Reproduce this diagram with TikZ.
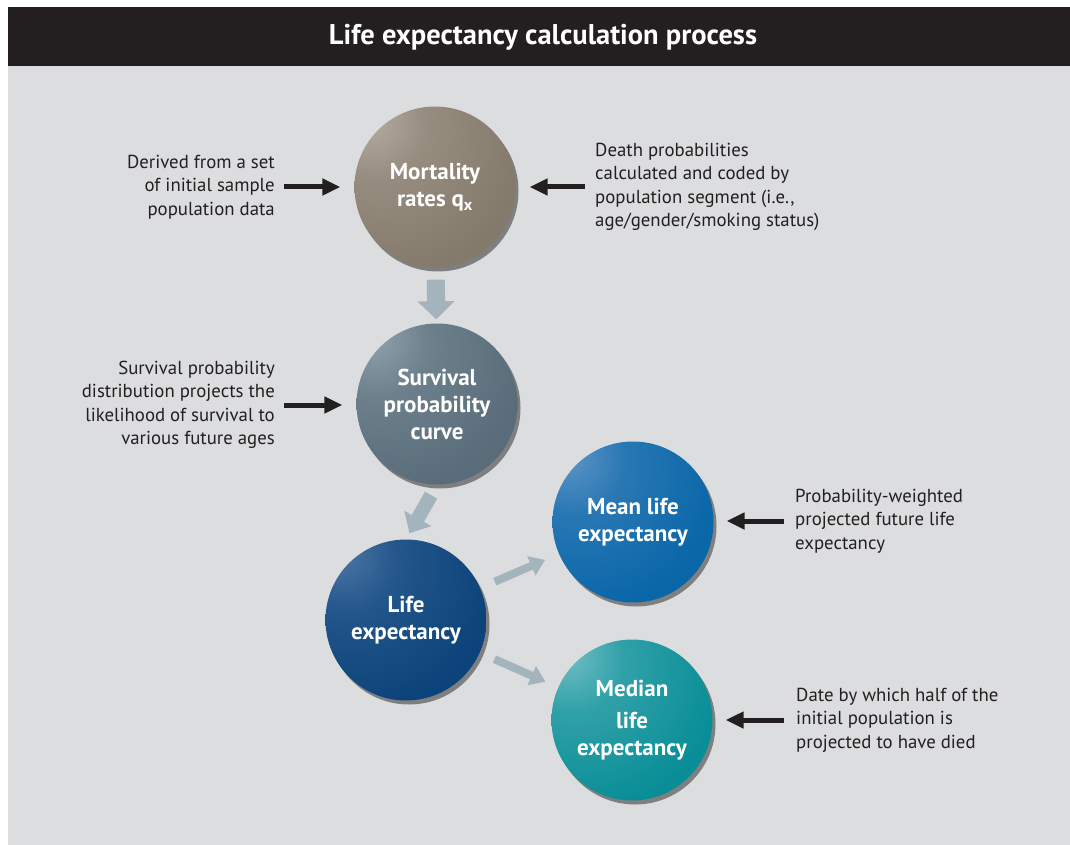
\documentclass[tikz,border=0pt]{standalone}
\usepackage{fontspec}
\setmainfont{PT Sans}
\usetikzlibrary{arrows.meta,shadows}
\definecolor{band}{HTML}{231F20}
\definecolor{panel}{HTML}{DCDDDF}
\definecolor{flowgray}{HTML}{A3B4BD}
\definecolor{mortlight}{HTML}{B7AFA3}
\definecolor{mortdark}{HTML}{847A6C}
\definecolor{survlight}{HTML}{93A5B0}
\definecolor{survdark}{HTML}{586C79}
\definecolor{lifelight}{HTML}{5079A8}
\definecolor{lifedark}{HTML}{0B437A}
\definecolor{meanlight}{HTML}{6398C9}
\definecolor{meandark}{HTML}{0966A8}
\definecolor{medlight}{HTML}{78C2C8}
\definecolor{meddark}{HTML}{098E97}
\colorlet{ballhi}{white}
\colorlet{balllo}{black}
\pgfdeclareradialshading[ballhi,balllo]{sphere}{\pgfpoint{-22bp}{22bp}}{color(0bp)=(ballhi); color(16bp)=(ballhi!35!balllo); color(40bp)=(balllo); color(100bp)=(balllo)}

\begin{document}
\begin{tikzpicture}[x=1pt,y=-1pt,
  ball/.style 2 args={circle,minimum size=161pt,inner sep=0pt,
    /utils/exec={\colorlet{ballhi}{#1}\colorlet{balllo}{#2}},
    shading=sphere,
    drop shadow={shadow xshift=3pt,shadow yshift=-4pt,opacity=.55,fill=black!80},
    text=white,align=center,font=\fontsize{23}{27}\selectfont\bfseries},
  note/.style={inner sep=0pt,text=band,font=\fontsize{18.8}{23.5}\selectfont},
  pointer/.style={-{Triangle[length=18pt,width=16pt]},line width=5pt,draw=band},
  flow/.style n args={3}{-{Triangle[width=#2pt,length=#3pt]},line width=#1pt,draw=flowgray}]
\useasboundingbox (0,0) rectangle (1070,845);
\fill[white] (0,0) rectangle (1070,845);
\fill[panel] (8,66) rectangle (1070,845);
\fill[band] (8,7) rectangle (1070,66);
\node[text=white,font=\fontsize{28.5}{32}\selectfont\bfseries] (title) at (543,37) {Life expectancy calculation process};
%mortality rates
\node[ball={mortlight}{mortdark}] (mort) at (435,187) {Mortality\\rates q\textsubscript{x}};
\node[note,anchor=east,align=right] (derived) at (275,187) {Derived from a set\\of initial sample\\population data};
\node[note,anchor=west,align=left] (death) at (595,187) {Death probabilities\\calculated and coded by\\population segment (i.e.,\\age/gender/smoking status)};
\draw[pointer,shorten <=9pt,shorten >=14pt] (derived.east) -- (derived.east -| mort.west);
\draw[pointer,shorten <=10pt,shorten >=14pt] (death.west) -- (death.west -| mort.east);
%survival curve
\node[ball={survlight}{survdark}] (surv) at (437,404) {Survival\\probability\\curve};
\node[note,anchor=east,align=right] (survnote) at (275,405) {Survival probability\\distribution projects the\\likelihood of survival to\\various future ages};
\draw[pointer,shorten <=9pt,shorten >=14pt] (survnote.east) -- (survnote.east -| surv.west);
\draw[flow={18}{36}{18},shorten <=12pt,shorten >=4pt] (mort) -- (surv);
%life expectancy
\node[ball={lifelight}{lifedark}] (life) at (406,620) {Life\\expectancy};
\draw[flow={14}{30}{17},shorten <=12pt,shorten >=7pt] (surv.south) -- (life.north);
%mean and median
\node[ball={meanlight}{meandark}] (mean) at (633,522) {Mean life\\expectancy};
\node[ball={medlight}{meddark}] (median) at (632,720) {Median\\[5pt]life\\expectancy};
\draw[flow={8}{20}{15},shorten <=16pt,shorten >=15pt] (life) -- (mean);
\draw[flow={8}{20}{15},shorten <=16pt,shorten >=14pt] (life) -- (median);
\node[note,anchor=west,align=left] (meannote) at (795,521) {Probability-weighted\\projected future life\\expectancy};
\node[note,anchor=west,align=left] (mednote) at (796,720) {Date by which half of the\\initial population is\\projected to have died};
\draw[pointer,shorten <=11pt,shorten >=13pt] (meannote.west) -- (meannote.west -| mean.east);
\draw[pointer,shorten <=12pt,shorten >=13pt] (mednote.west) -- (mednote.west -| median.east);
\end{tikzpicture}
\end{document}
